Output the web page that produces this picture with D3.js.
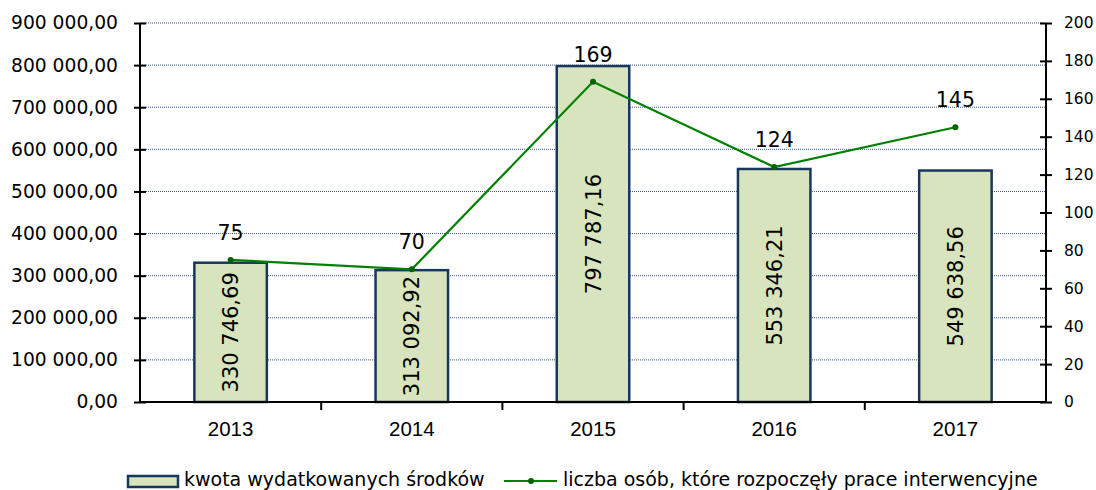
<!DOCTYPE html>
<html>
<head>
<meta charset="utf-8">
<script src="https://cdn.jsdelivr.net/npm/d3@7"></script>
<style>
  html, body { margin: 0; padding: 0; background: #fff; }
  svg { display: block; }
</style>
</head>
<body>
<svg id="chart" width="1096" height="490"></svg>
<script>
// Data
const years = ["2013", "2014", "2015", "2016", "2017"];
const amounts = [330746.69, 313092.92, 797787.16, 553346.21, 549638.56];
const persons = [75, 70, 169, 124, 145];
const amountTicks = [0, 100000, 200000, 300000, 400000, 500000, 600000, 700000, 800000, 900000];
const personTicks = [0, 20, 40, 60, 80, 100, 120, 140, 160, 180, 200];
const seriesNames = ["kwota wydatkowanych środków", "liczba osób, które rozpoczęły prace interwencyjne"];

(function () {
const svg = d3.select("#chart");
const plotL = 140, plotR = 1046, plotT = 23, plotB = 402;

const x = d3.scaleBand().domain(years).range([plotL, plotR]).paddingInner(0).paddingOuter(0);
const yL = d3.scaleLinear().domain([0, 900000]).range([plotB, plotT]);
const yR = d3.scaleLinear().domain([0, 200]).range([plotB, plotT]);

const fmtPL = v => {
  const [i, d] = v.toFixed(2).split(".");
  return i.replace(/\B(?=(\d{3})+(?!\d))/g, " ") + "," + d;
};

const FONT = "'DejaVu Sans', Verdana, sans-serif";

// gridlines
svg.append("g")
  .selectAll("line")
  .data(amountTicks.filter(d => d > 0))
  .join("line")
  .attr("x1", plotL).attr("x2", plotR)
  .attr("y1", d => yL(d)).attr("y2", d => yL(d))
  .attr("stroke", "#34588a")
  .attr("stroke-width", 1)
  .attr("stroke-dasharray", "1,1");

// bars
const barW = x.bandwidth() * 0.4;
svg.append("g")
  .selectAll("rect")
  .data(years)
  .join("rect")
  .attr("x", d => x(d) + (x.bandwidth() - barW) / 2)
  .attr("y", (d, i) => yL(amounts[i]))
  .attr("width", barW)
  .attr("height", (d, i) => plotB - yL(amounts[i]))
  .attr("fill", "#d7e4bd")
  .attr("stroke", "#17375e")
  .attr("stroke-width", 2.5);

// bar value labels (rotated)
svg.append("g")
  .selectAll("text")
  .data(years)
  .join("text")
  .attr("transform", (d, i) => {
    const cx = x(d) + x.bandwidth() / 2;
    const cy = (yL(amounts[i]) + plotB) / 2;
    return `translate(${cx},${cy}) rotate(-90)`;
  })
  .attr("text-anchor", "middle")
  .attr("dy", "0.36em")
  .attr("font-family", FONT)
  .attr("font-size", 21)
  .attr("fill", "#000")
  .text((d, i) => fmtPL(amounts[i]));

// left axis
const axL = svg.append("g").attr("transform", `translate(${plotL},0)`)
  .call(d3.axisLeft(yL).tickValues(amountTicks).tickFormat(fmtPL).tickSize(6).tickPadding(16));
axL.select(".domain").remove();
axL.selectAll(".tick line").attr("x1", -6).attr("x2", 6).attr("stroke", "#000").attr("stroke-width", 2);
axL.selectAll(".tick text").attr("font-family", FONT).attr("font-size", 18.7).attr("fill", "#000");
svg.append("line").attr("x1", plotL).attr("x2", plotL).attr("y1", plotT).attr("y2", plotB + 1)
  .attr("stroke", "#000").attr("stroke-width", 2);

// right axis
const axR = svg.append("g").attr("transform", `translate(${plotR},0)`)
  .call(d3.axisRight(yR).tickValues(personTicks).tickSize(6).tickPadding(12));
axR.select(".domain").remove();
axR.selectAll(".tick line").attr("x1", -6).attr("x2", 6).attr("stroke", "#000").attr("stroke-width", 2);
axR.selectAll(".tick text").attr("font-family", FONT).attr("font-size", 15.5).attr("fill", "#000");
svg.append("line").attr("x1", plotR).attr("x2", plotR).attr("y1", plotT).attr("y2", plotB + 1)
  .attr("stroke", "#000").attr("stroke-width", 2);

// bottom axis
svg.append("line").attr("x1", plotL).attr("x2", plotR).attr("y1", plotB).attr("y2", plotB)
  .attr("stroke", "#000").attr("stroke-width", 2);
svg.append("g")
  .selectAll("line")
  .data(years.slice(1))
  .join("line")
  .attr("x1", d => x(d)).attr("x2", d => x(d))
  .attr("y1", plotB).attr("y2", plotB + 8)
  .attr("stroke", "#000").attr("stroke-width", 2);
svg.append("g")
  .selectAll("text")
  .data(years)
  .join("text")
  .attr("x", d => x(d) + x.bandwidth() / 2)
  .attr("y", 436)
  .attr("text-anchor", "middle")
  .attr("font-family", "'Liberation Sans', Arial, sans-serif")
  .attr("font-size", 20.5)
  .attr("fill", "#000")
  .text(d => d);

// line series
const cx = d => x(d) + x.bandwidth() / 2;
svg.append("path")
  .datum(years)
  .attr("d", d3.line().x(cx).y((d, i) => yR(persons[i])))
  .attr("fill", "none")
  .attr("stroke", "#008000")
  .attr("stroke-width", 2.2);
svg.append("g")
  .selectAll("circle")
  .data(years)
  .join("circle")
  .attr("cx", cx)
  .attr("cy", (d, i) => yR(persons[i]))
  .attr("r", 3)
  .attr("fill", "#006400");
svg.append("g")
  .selectAll("text")
  .data(years)
  .join("text")
  .attr("x", cx)
  .attr("y", (d, i) => yR(persons[i]) - 20)
  .attr("text-anchor", "middle")
  .attr("font-family", FONT)
  .attr("font-size", 20.5)
  .attr("fill", "#000")
  .text((d, i) => persons[i]);

// legend
const lg = svg.append("g");
lg.append("rect").attr("x", 128).attr("y", 476).attr("width", 50).attr("height", 11)
  .attr("fill", "#d7e4bd").attr("stroke", "#17375e").attr("stroke-width", 2.5);
lg.append("text").attr("x", 184).attr("y", 485.5)
  .attr("font-family", FONT).attr("font-size", 19).attr("fill", "#000")
  .text(seriesNames[0]);
lg.append("line").attr("x1", 504).attr("x2", 557).attr("y1", 481).attr("y2", 481)
  .attr("stroke", "#008000").attr("stroke-width", 2.2);
lg.append("circle").attr("cx", 531).attr("cy", 481).attr("r", 3).attr("fill", "#006400");
lg.append("text").attr("x", 563).attr("y", 485.5)
  .attr("font-family", FONT).attr("font-size", 19).attr("fill", "#000")
  .text(seriesNames[1]);
})();
</script>
</body>
</html>
